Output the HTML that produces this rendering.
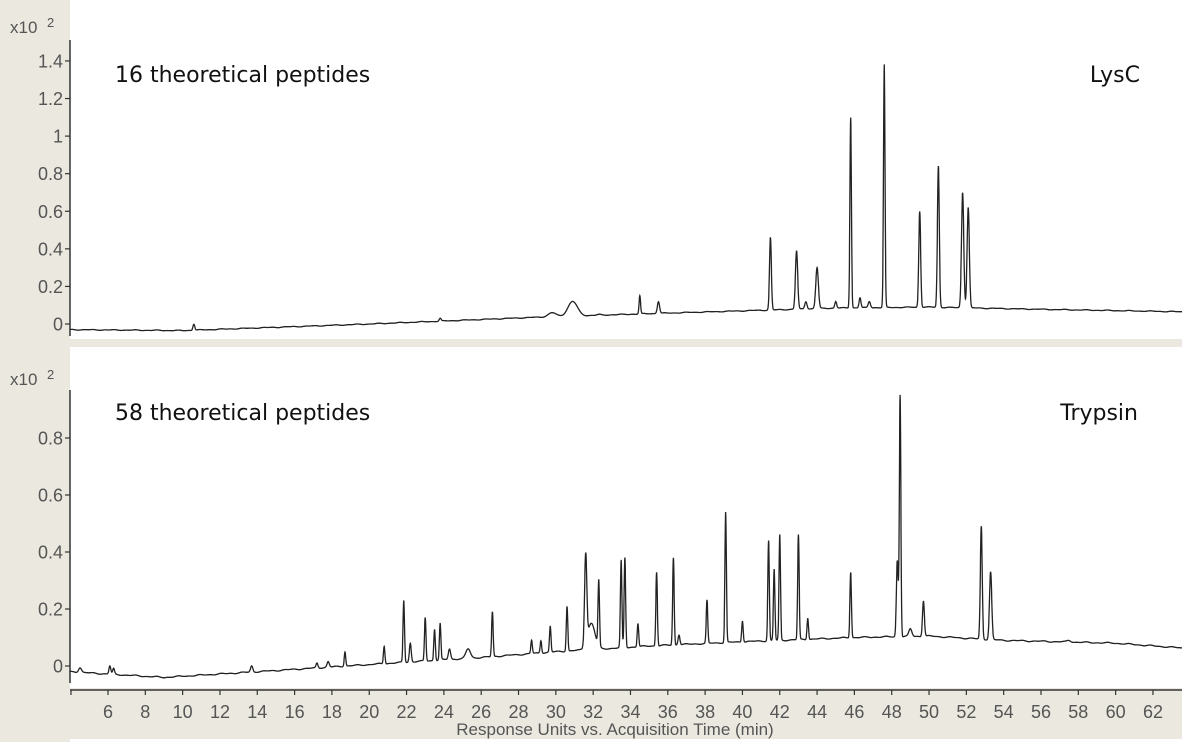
<!DOCTYPE html>
<html><head><meta charset="utf-8">
<style>
html,body{margin:0;padding:0;background:#fff;}
body{width:1182px;height:742px;overflow:hidden;font-family:"Liberation Sans",sans-serif;}
</style></head>
<body>
<svg id="s" width="1182" height="742" xmlns="http://www.w3.org/2000/svg" style="display:block">
<rect x="0" y="0" width="1182" height="742" fill="#ffffff"/>
<rect x="0" y="0" width="70" height="742" fill="#ebe8df"/>
<rect x="0" y="339" width="1182" height="8" fill="#ebe8df"/>
<rect x="0" y="688" width="1182" height="51" fill="#ebe8df"/>
<g id="g" font-family="Liberation Sans, sans-serif" fill="#555" font-size="18"></g>
<text x="115" y="82" font-size="22" fill="#111" font-family="DejaVu Sans, Liberation Sans, sans-serif">16 theoretical peptides</text>
<text x="1140" y="82" font-size="22" fill="#111" text-anchor="end" font-family="DejaVu Sans, Liberation Sans, sans-serif">LysC</text>
<text x="115" y="420" font-size="22" fill="#111" font-family="DejaVu Sans, Liberation Sans, sans-serif">58 theoretical peptides</text>
<text x="1138" y="420" font-size="22" fill="#111" text-anchor="end" font-family="DejaVu Sans, Liberation Sans, sans-serif">Trypsin</text>
<text x="615" y="735" font-size="17" fill="#555" text-anchor="middle">Response Units vs. Acquisition Time (min)</text>
<text x="10" y="33" font-size="17" fill="#555">x10</text><text x="47" y="27" font-size="13" fill="#555">2</text>
<text x="10" y="385" font-size="17" fill="#555">x10</text><text x="47" y="379" font-size="13" fill="#555">2</text>
</svg>
<script>
var NS="http://www.w3.org/2000/svg";
var g=document.getElementById('g');
function el(t,a,txt){var e=document.createElementNS(NS,t);for(var k in a)e.setAttribute(k,a[k]);if(txt!==undefined)e.textContent=txt;g.appendChild(e);return e;}
function X(t){return 108+(t-6)*18.66;}
function interp(pts,t){for(var i=0;i<pts.length-1;i++){if(t<=pts[i+1][0]){var f=(t-pts[i][0])/(pts[i+1][0]-pts[i][0]);return pts[i][1]+f*(pts[i+1][1]-pts[i][1]);}}return pts[pts.length-1][1];}
function panel(y0,scale,axTop,axBot,ticks,base,peaks){
  el('line',{x1:70,y1:axTop,x2:70,y2:axBot,stroke:'#333','stroke-width':1.5});
  ticks.forEach(function(v){var y=y0-v*scale;el('line',{x1:65,y1:y,x2:70,y2:y,stroke:'#333','stroke-width':1.2});
    el('text',{x:63,y:y+6.5,'text-anchor':'end'},(v==0||v==1)?String(v):v.toFixed(1));});
  var d='';
  for(var t=3.95;t<=63.6;t+=0.01){
    var v=interp(base,t);
    peaks.forEach(function(p){var b=interp(base,p[0]);var w=p[2]||0.05;v+=(p[1]-b)*Math.exp(-Math.pow((t-p[0])/w,2)/2);});
    v+=0.0015*Math.sin(t*5.3)+0.001*Math.sin(t*11.1);
    d+=(d?'L':'M')+X(t).toFixed(1)+' '+(y0-v*scale).toFixed(1);
  }
  el('path',{d:d,fill:'none',stroke:'#222','stroke-width':1.3});
}
panel(324,187.9,40,336,[0,0.2,0.4,0.6,0.8,1,1.2,1.4],
 [[3.9,-0.03],[10,-0.035],[20,0.0],[30,0.04],[40,0.07],[45,0.085],[50,0.09],[55,0.08],[63.6,0.065]],
 [[10.6,0.0,0.05],[23.8,0.03,0.05],[29.8,0.06,0.2],[30.9,0.12,0.25],[32.3,0.05,0.1],[34.5,0.15,0.04],[35.5,0.12,0.06],
  [41.5,0.46,0.05],[42.9,0.39,0.06],[43.4,0.12,0.06],[44.0,0.3,0.07],[45.0,0.12,0.05],[45.8,1.1,0.04],[46.3,0.14,0.05],[46.8,0.12,0.06],[47.6,1.38,0.04],
  [49.5,0.6,0.05],[50.5,0.84,0.05],[51.8,0.7,0.06],[52.1,0.62,0.06]]);
panel(666,285,390,683,[0,0.2,0.4,0.6,0.8],
 [[3.9,-0.02],[9,-0.04],[14,-0.02],[20,0.005],[26,0.03],[30,0.05],[35,0.07],[40,0.085],[46,0.1],[50,0.105],[54,0.09],[60,0.08],[63.6,0.063]],
 [[4.5,-0.005,0.08],[6.1,0.0,0.05],[6.3,-0.01,0.05],[13.7,0.0,0.06],[17.2,0.01,0.05],[17.8,0.015,0.06],[18.7,0.05,0.04],[20.8,0.07,0.04],[21.85,0.23,0.04],[22.2,0.08,0.05],[23.0,0.17,0.04],
  [23.5,0.13,0.04],[23.8,0.15,0.04],[24.3,0.06,0.06],[25.3,0.06,0.12],[26.6,0.19,0.04],[28.7,0.09,0.04],[29.2,0.09,0.04],[29.7,0.14,0.04],[30.6,0.21,0.04],
  [31.6,0.37,0.06],[31.9,0.15,0.2],[32.3,0.29,0.04],[33.5,0.37,0.04],[33.7,0.38,0.04],[34.4,0.15,0.04],[35.4,0.33,0.04],[36.3,0.38,0.04],[36.6,0.11,0.05],
  [38.1,0.23,0.04],[39.1,0.54,0.04],[40.0,0.16,0.04],[41.4,0.44,0.04],[41.7,0.34,0.04],[42.0,0.46,0.04],[43.0,0.46,0.04],[43.5,0.17,0.04],
  [45.8,0.33,0.04],[48.3,0.37,0.05],[48.45,0.95,0.04],[49.0,0.13,0.08],[49.7,0.23,0.05],[52.8,0.49,0.05],[53.3,0.33,0.06],[57.5,0.09,0.1]]);
el('line',{x1:70,y1:690,x2:1182,y2:690,stroke:'#333','stroke-width':1.5});
el('line',{x1:71,y1:690,x2:71,y2:695,stroke:'#333','stroke-width':1.2});
for(var t=6;t<=62;t+=2){var x=X(t);el('line',{x1:x,y1:690,x2:x,y2:695,stroke:'#333','stroke-width':1.2});el('text',{x:x,y:718,'text-anchor':'middle'},String(t));}
</script>
</body></html>
